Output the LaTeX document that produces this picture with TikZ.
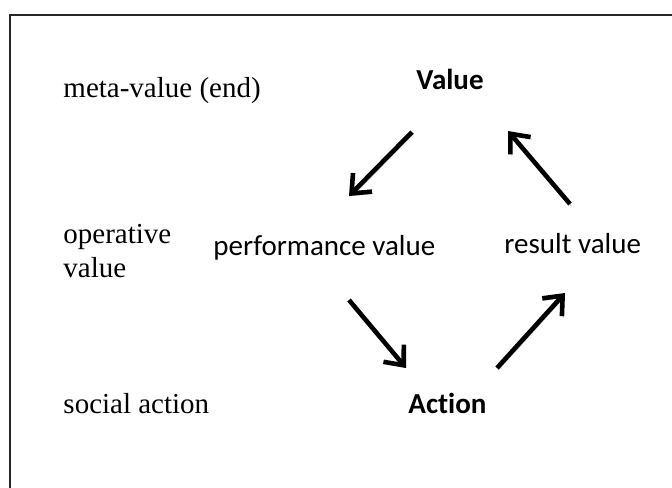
\documentclass[tikz,border=0pt]{standalone}
\usepackage{fontspec}
\setmainfont{Liberation Serif}
\newfontfamily\calibri[RawFeature={-liga}]{Carlito}
\usetikzlibrary{arrows.meta}

\tikzset{
  level/.style={anchor=base west, inner sep=0pt, align=left,
    font=\fontsize{12}{14}\selectfont},
  term/.style={anchor=base west, inner sep=0pt,
    font=\calibri\fontsize{12}{14}\selectfont},
  flow/.style={line width=1.9pt, -{Straight Barb[length=6.5pt,width=11pt]},
    preaction={draw=black!20, transform canvas={shift={(0.6pt,-0.8pt)}}}}
}

\begin{document}
\begin{tikzpicture}[x=0.414pt, y=-0.414pt]
  \useasboundingbox (0,0) rectangle (672,487);
  \draw[line width=1pt, black!85] (10,540) |- (720,15);

  % levels on the left
  \node[level] (meta) at (63,97)  {meta-value (end)};
  \node[level] (oper) at (63,277) {operative\\value};
  \node[level] (soc)  at (63,413) {social action};

  % the cycle
  \node[term] (val)  at (416,89)  {\bfseries Value};
  \node[term] (perf) at (213,255) {performance value};
  \node[term] (res)  at (504,253) {result value};
  \node[term] (act)  at (408,413) {\bfseries Action};

  \draw[flow] ([shift={(-4,43)}]val.base west)  -- ([shift={(136,-59)}]perf.base west);
  \draw[flow] ([shift={(136,45)}]perf.base west) -- ([shift={(-2,-45)}]act.base west);
  \draw[flow] ([shift={(89,-45)}]act.base west)  -- ([shift={(61,40)}]res.base west);
  \draw[flow] ([shift={(66,-49)}]res.base west)  -- ([shift={(92,42)}]val.base west);
\end{tikzpicture}
\end{document}
